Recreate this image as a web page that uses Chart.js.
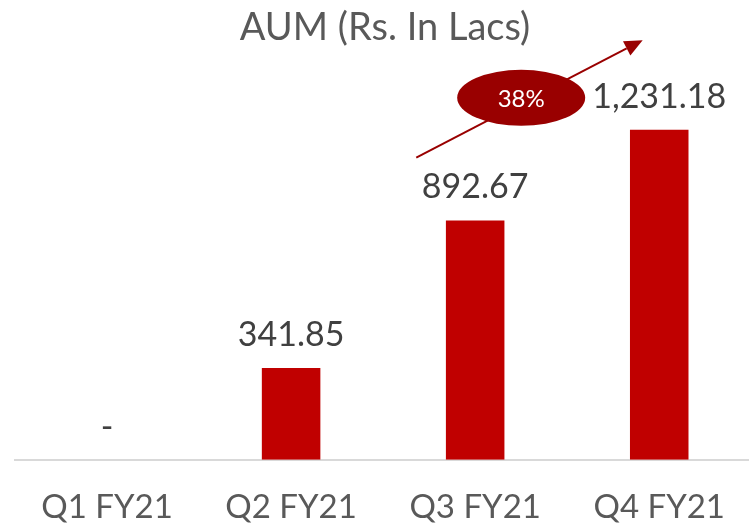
<!DOCTYPE html>
<html>
<head>
<meta charset="utf-8">
<script src="https://cdn.jsdelivr.net/npm/chart.js@4"></script>
<style>
  html, body { margin: 0; padding: 0; background: #fff; overflow: hidden; }
  #wrap { width: 755px; height: 556px; }
</style>
</head>
<body>
<div id="wrap"><canvas id="aumChart"></canvas></div>
<script>
// chart data
const quarters = ['Q1 FY21', 'Q2 FY21', 'Q3 FY21', 'Q4 FY21'];
const aumValues = [0, 341.85, 892.67, 1231.18];
const growthLabel = '38%';

const FONT = 'Lato, "Open Sans", sans-serif';

// value labels above each bar, zero shows as a dash
const valueLabels = {
    id: 'valueLabels',
    afterDatasetsDraw(chart) {
        const ctx = chart.ctx;
        const meta = chart.getDatasetMeta(0);
        ctx.save();
        ctx.font = '34px ' + FONT;
        ctx.fillStyle = '#404040';
        ctx.textAlign = 'center';
        ctx.textBaseline = 'middle';
        meta.data.forEach(function(bar, i) {
            const v = aumValues[i];
            const txt = v === 0 ? '-' : v.toLocaleString('en-US', { minimumFractionDigits: 2, maximumFractionDigits: 2 });
            ctx.fillText(txt, bar.x, bar.y - 33);
        });
        ctx.restore();
    }
};

// growth arrow + ellipse badge, placed in scale units
const growthArrow = {
    id: 'growthArrow',
    afterDraw(chart) {
        const ctx = chart.ctx;
        const xs = chart.scales.x, ys = chart.scales.y;
        const x0 = xs.getPixelForValue(1.68), y0 = ys.getPixelForValue(1127);
        const x1 = xs.getPixelForValue(2.91), y1 = ys.getPixelForValue(1565);
        const ang = Math.atan2(y1 - y0, x1 - x0);
        const headLen = 18, headW = 8;

        ctx.save();
        ctx.strokeStyle = '#990000';
        ctx.fillStyle = '#990000';
        ctx.lineWidth = 2;
        ctx.beginPath();
        ctx.moveTo(x0, y0);
        ctx.lineTo(x1 - Math.cos(ang) * headLen, y1 - Math.sin(ang) * headLen);
        ctx.stroke();

        const bx = x1 - Math.cos(ang) * headLen, by = y1 - Math.sin(ang) * headLen;
        ctx.beginPath();
        ctx.moveTo(x1, y1);
        ctx.lineTo(bx + Math.sin(ang) * headW, by - Math.cos(ang) * headW);
        ctx.lineTo(bx - Math.sin(ang) * headW, by + Math.cos(ang) * headW);
        ctx.closePath();
        ctx.fill();

        const cx = xs.getPixelForValue(2.25), cy = ys.getPixelForValue(1350);
        ctx.beginPath();
        ctx.ellipse(cx, cy, 64, 28, 0, 0, Math.PI * 2);
        ctx.fill();

        ctx.fillStyle = '#ffffff';
        ctx.font = '24px ' + FONT;
        ctx.textAlign = 'center';
        ctx.textBaseline = 'middle';
        ctx.fillText(growthLabel, cx, cy + 1);
        ctx.restore();
    }
};

const ctx = document.getElementById('aumChart').getContext('2d');
new Chart(ctx, {
    type: 'bar',
    data: {
        labels: quarters,
        datasets: [{
            label: 'AUM',
            data: aumValues,
            backgroundColor: '#C00000',
            borderWidth: 0,
            barPercentage: 1,
            categoryPercentage: 0.318
        }]
    },
    options: {
        responsive: true,
        maintainAspectRatio: false,
        animation: false,
        layout: {
            padding: { left: 15, right: 0, top: 0, bottom: 0 }
        },
        plugins: {
            legend: { display: false },
            tooltip: { enabled: false },
            title: {
                display: true,
                text: 'AUM (Rs. In Lacs)',
                color: '#595959',
                font: { family: FONT, size: 38, weight: 'normal', lineHeight: 1.2 },
                padding: { top: 5, bottom: 7 }
            }
        },
        scales: {
            x: {
                grid: { display: false, drawTicks: false },
                border: { display: true, color: '#d9d9d9', width: 2 },
                ticks: {
                    color: '#595959',
                    padding: 30,
                    font: { family: FONT, size: 33, lineHeight: 1.1 }
                }
            },
            y: {
                display: false,
                min: 0,
                max: 1500
            }
        }
    },
    plugins: [valueLabels, growthArrow]
});
</script>
</body>
</html>
